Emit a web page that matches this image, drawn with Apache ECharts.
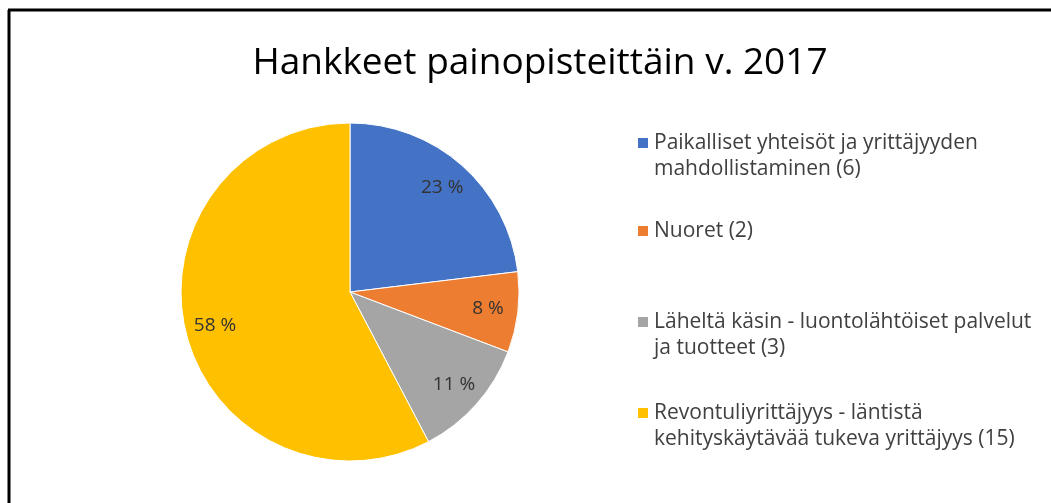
<!DOCTYPE html>
<html>
<head>
<meta charset="utf-8">
<script src="https://cdn.jsdelivr.net/npm/echarts@6/dist/echarts.min.js"></script>
<style>
  html, body { margin: 0; padding: 0; background: #ffffff; }
  #chart { width: 1051px; height: 503px; }
</style>
</head>
<body>
<div id="chart"></div>
<script>
// data
const names = [
  'Paikalliset yhteisöt ja yrittäjyyden\nmahdollistaminen (6)',
  'Nuoret (2)',
  'Läheltä käsin - luontolähtöiset palvelut\nja tuotteet (3)',
  'Revontuliyrittäjyys - läntistä\nkehityskäytävää tukeva yrittäjyys (15)'
]
const values = [6, 2, 3, 15]
const colors = ['#4472C4', '#ED7D31', '#A5A5A5', '#FFC000']
const titleText = 'Hankkeet painopisteittäin v. 2017'

const font = '"Open Sans", Lato, sans-serif'
const textColor = '#404040'

const chart = echarts.init(document.getElementById('chart'))

const pieData = names.map((n, i) => ({ name: n, value: values[i], itemStyle: { color: colors[i] } }))
// same values, transparent, only for the labels
const labelData = names.map((n, i) => ({ name: n, value: values[i], itemStyle: { color: 'rgba(0,0,0,0)' } }))

// one legend per entry, entries are not evenly spaced in the original
const legendTops = [143, 231, 322, 413]
const legends = names.map((n, i) => {
  const twoLines = n.indexOf('\n') > -1
  return {
    data: [n],
    left: 636,
    top: legendTops[i] - (twoLines ? 39 : 13),
    padding: 0,
    icon: 'rect',
    itemWidth: 12,
    itemHeight: 12,
    itemGap: 9,
    selectedMode: false,
    // empty first line so the icon sits next to the first text line
    formatter: (name) => (name.indexOf('\n') > -1 ? '\n' + name : name),
    textStyle: {
      color: textColor,
      fontFamily: font,
      fontSize: 21,
      lineHeight: 26
    }
  }
})

const option = {
  backgroundColor: '#ffffff',
  animation: false,
  title: {
    text: titleText,
    left: 535,
    top: 40,
    textAlign: 'center',
    textStyle: {
      fontFamily: font,
      fontSize: 37,
      fontWeight: 'normal',
      color: '#000000'
    }
  },
  legend: legends,
  graphic: [
    { type: 'line', shape: { x1: 8, y1: 10, x2: 1051, y2: 10 }, style: { stroke: '#000', lineWidth: 3 } },
    { type: 'line', shape: { x1: 9, y1: 10, x2: 9, y2: 503 }, style: { stroke: '#000', lineWidth: 3 } }
  ],
  series: [
    {
      type: 'pie',
      center: [350, 292],
      radius: 169,
      startAngle: 90,
      clockwise: true,
      percentPrecision: 0,
      itemStyle: { borderColor: '#ffffff', borderWidth: 1 },
      label: { show: false },
      labelLine: { show: false },
      emphasis: { disabled: true },
      data: pieData
    },
    {
      // transparent copy that only carries the percent labels further out
      type: 'pie',
      center: [350, 292],
      radius: 272,
      startAngle: 90,
      clockwise: true,
      percentPrecision: 0,
      silent: true,
      z: 3,
      label: {
        show: true,
        position: 'inside',
        formatter: '{d} %',
        color: '#333333',
        fontFamily: font,
        fontSize: 19
      },
      labelLine: { show: false },
      emphasis: { disabled: true },
      data: labelData
    }
  ]
}

chart.setOption(option)
</script>
</body>
</html>
